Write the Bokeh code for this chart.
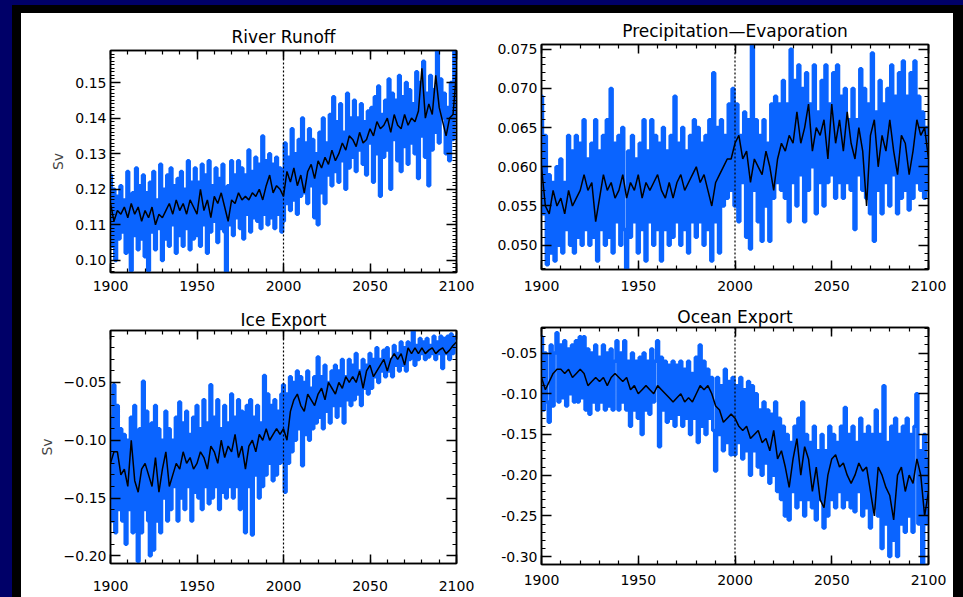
import numpy as np
from bokeh.plotting import figure
from bokeh.models import (Range1d, LinearAxis, SingleIntervalTicker, PrintfTickFormatter,
                          CustomJSTickFormatter, Span, Spacer, CustomLabelingPolicy)
from bokeh.layouts import row, column
from bokeh.embed import file_html
from bokeh.resources import INLINE

# ---------------- data ----------------
titles = ["River Runoff", "Precipitation\u2014Evaporation", "Ice Export", "Ocean Export"]

# annual blue series 1900..2100 (10 values per decade)
runoff_blue = [
    0.124, 0.104, 0.120, 0.100, 0.118, 0.106, 0.121, 0.108, 0.117, 0.102,
    0.125, 0.104, 0.097, 0.119, 0.107, 0.126, 0.103, 0.121, 0.106, 0.124,
    0.101, 0.119, 0.097, 0.122, 0.108, 0.125, 0.103, 0.117, 0.109, 0.127,
    0.100, 0.120, 0.106, 0.124, 0.104, 0.126, 0.110, 0.121, 0.102, 0.123,
    0.107, 0.125, 0.104, 0.120, 0.109, 0.128, 0.103, 0.122, 0.106, 0.126,
    0.107, 0.122, 0.104, 0.127, 0.110, 0.124, 0.102, 0.128, 0.108, 0.121,
    0.111, 0.126, 0.105, 0.123, 0.109, 0.127, 0.108, 0.096, 0.121, 0.110,
    0.128, 0.107, 0.124, 0.112, 0.128, 0.109, 0.126, 0.106, 0.124, 0.113,
    0.131, 0.108, 0.125, 0.112, 0.129, 0.111, 0.127, 0.109, 0.135, 0.113,
    0.128, 0.110, 0.130, 0.112, 0.127, 0.109, 0.129, 0.113, 0.126, 0.108,
    0.111, 0.133, 0.116, 0.129, 0.114, 0.137, 0.117, 0.130, 0.113, 0.134,
    0.118, 0.140, 0.119, 0.133, 0.116, 0.137, 0.121, 0.134, 0.112, 0.130,
    0.110, 0.136, 0.119, 0.140, 0.116, 0.133, 0.124, 0.141, 0.121, 0.146,
    0.125, 0.139, 0.122, 0.144, 0.128, 0.136, 0.120, 0.147, 0.126, 0.140,
    0.129, 0.145, 0.125, 0.140, 0.131, 0.144, 0.127, 0.139, 0.124, 0.142,
    0.133, 0.143, 0.122, 0.146, 0.130, 0.149, 0.118, 0.141, 0.129, 0.145,
    0.131, 0.151, 0.120, 0.147, 0.134, 0.145, 0.128, 0.152, 0.125, 0.146,
    0.132, 0.150, 0.127, 0.148, 0.133, 0.144, 0.130, 0.153, 0.123, 0.150,
    0.135, 0.156, 0.129, 0.147, 0.121, 0.152, 0.131, 0.148, 0.136, 0.159,
    0.133, 0.151, 0.140, 0.147, 0.130, 0.143, 0.128, 0.150, 0.134, 0.159,
    0.141,
]
# black series every 2 years 1900..2100
runoff_black = [
    0.116, 0.111, 0.114, 0.113, 0.115, 0.112, 0.116, 0.113, 0.115, 0.111,
    0.114, 0.112, 0.115, 0.110, 0.113, 0.112, 0.114, 0.116, 0.113, 0.117,
    0.114, 0.116, 0.113, 0.117, 0.115, 0.113, 0.120, 0.114, 0.117, 0.112,
    0.118, 0.116, 0.119, 0.115, 0.111, 0.117, 0.116, 0.119, 0.117, 0.118,
    0.117, 0.119, 0.118, 0.120, 0.117, 0.121, 0.124, 0.119, 0.121, 0.120,
    0.118, 0.125, 0.122, 0.126, 0.121, 0.124, 0.119, 0.125, 0.127, 0.123,
    0.128, 0.126, 0.129, 0.127, 0.131, 0.128, 0.130, 0.133, 0.131, 0.135,
    0.134, 0.132, 0.136, 0.133, 0.134, 0.137, 0.135, 0.139, 0.137, 0.138,
    0.140, 0.136, 0.141, 0.138, 0.137, 0.141, 0.138, 0.140, 0.139, 0.142,
    0.154, 0.140, 0.144, 0.141, 0.152, 0.143, 0.139, 0.135, 0.140, 0.141,
    0.153,
]

pe_blue = [
    0.069, 0.054, 0.064, 0.0475, 0.059, 0.049, 0.058, 0.048, 0.060, 0.050,
    0.061, 0.049, 0.058, 0.052, 0.064, 0.050, 0.062, 0.049, 0.064, 0.051,
    0.063, 0.050, 0.066, 0.052, 0.061, 0.050, 0.063, 0.051, 0.066, 0.048,
    0.062, 0.052, 0.064, 0.050, 0.066, 0.051, 0.070, 0.049, 0.063, 0.053,
    0.064, 0.050, 0.065, 0.052, 0.0465, 0.062, 0.051, 0.064, 0.053, 0.061,
    0.049, 0.063, 0.052, 0.066, 0.048, 0.062, 0.053, 0.066, 0.050, 0.064,
    0.052, 0.063, 0.048, 0.065, 0.052, 0.062, 0.050, 0.064, 0.051, 0.069,
    0.053, 0.063, 0.050, 0.065, 0.052, 0.062, 0.049, 0.064, 0.053, 0.066,
    0.051, 0.065, 0.053, 0.063, 0.050, 0.064, 0.052, 0.066, 0.048, 0.072,
    0.053, 0.065, 0.049, 0.066, 0.055, 0.064, 0.056, 0.068, 0.057, 0.070,
    0.055, 0.068, 0.053, 0.064, 0.058, 0.067, 0.051, 0.066, 0.0495, 0.0755,
    0.057, 0.066, 0.053, 0.064, 0.0505, 0.066, 0.055, 0.063, 0.0505, 0.068,
    0.056, 0.069, 0.058, 0.068, 0.057, 0.071, 0.056, 0.068, 0.053, 0.075,
    0.058, 0.071, 0.055, 0.073, 0.059, 0.070, 0.053, 0.072, 0.057, 0.068,
    0.060, 0.073, 0.054, 0.067, 0.058, 0.071, 0.055, 0.073, 0.058, 0.068,
    0.059, 0.072, 0.056, 0.073, 0.058, 0.069, 0.056, 0.070, 0.058, 0.066,
    0.057, 0.070, 0.052, 0.066, 0.059, 0.0725, 0.057, 0.070, 0.056, 0.068,
    0.054, 0.0745, 0.0505, 0.067, 0.057, 0.071, 0.054, 0.068, 0.058, 0.070,
    0.055, 0.073, 0.059, 0.069, 0.054, 0.072, 0.056, 0.0735, 0.057, 0.069,
    0.0545, 0.072, 0.056, 0.0735, 0.058, 0.069, 0.057, 0.067, 0.056, 0.065,
    0.057,
]
pe_black = [
    0.060, 0.055, 0.054, 0.057, 0.055, 0.056, 0.054, 0.057, 0.055, 0.056,
    0.057, 0.059, 0.057, 0.058, 0.053, 0.056, 0.059, 0.057, 0.058, 0.056,
    0.057, 0.059, 0.056, 0.058, 0.057, 0.059, 0.056, 0.058, 0.057, 0.058,
    0.059, 0.057, 0.056, 0.058, 0.056, 0.058, 0.059, 0.057, 0.058, 0.059,
    0.060, 0.058, 0.059, 0.057, 0.055, 0.058, 0.059, 0.060, 0.061, 0.061,
    0.063, 0.064, 0.061, 0.062, 0.058, 0.061, 0.060, 0.059, 0.062, 0.060,
    0.057, 0.061, 0.063, 0.062, 0.064, 0.063, 0.067, 0.063, 0.065, 0.068,
    0.062, 0.065, 0.064, 0.066, 0.061, 0.068, 0.063, 0.066, 0.062, 0.067,
    0.063, 0.061, 0.065, 0.062, 0.055, 0.064, 0.066, 0.060, 0.064, 0.062,
    0.066, 0.062, 0.059, 0.064, 0.063, 0.059, 0.062, 0.066, 0.064, 0.065,
    0.061,
]

ice_blue = [
    -0.080, -0.170, -0.052, -0.180, -0.070, -0.160, -0.090, -0.170, -0.095, -0.190,
    -0.100, -0.160, -0.080, -0.180, -0.070, -0.150, -0.205, -0.090, -0.180, -0.049,
    -0.160, -0.075, -0.170, -0.200, -0.085, -0.195, -0.070, -0.170, -0.090, -0.180,
    -0.100, -0.150, -0.075, -0.170, -0.090, -0.160, -0.100, -0.140, -0.080, -0.170,
    -0.067, -0.150, -0.085, -0.160, -0.075, -0.140, -0.095, -0.170, -0.080, -0.145,
    -0.070, -0.150, -0.090, -0.160, -0.065, -0.140, -0.085, -0.155, -0.052, -0.150,
    -0.080, -0.140, -0.065, -0.160, -0.090, -0.145, -0.070, -0.150, -0.085, -0.140,
    -0.060, -0.150, -0.080, -0.140, -0.065, -0.160, -0.075, -0.145, -0.180, -0.070,
    -0.140, -0.065, -0.182, -0.080, -0.130, -0.070, -0.150, -0.085, -0.140, -0.044,
    -0.130, -0.060, -0.120, -0.070, -0.135, -0.065, -0.130, -0.075, -0.120, -0.060,
    -0.052, -0.145, -0.060, -0.120, -0.045, -0.110, -0.050, -0.100, -0.040, -0.090,
    -0.045, -0.122, -0.050, -0.095, -0.040, -0.100, -0.055, -0.090, -0.045, -0.085,
    -0.028, -0.080, -0.045, -0.090, -0.035, -0.075, -0.050, -0.085, -0.040, -0.070,
    -0.035, -0.080, -0.040, -0.070, -0.030, -0.085, -0.045, -0.065, -0.030, -0.070,
    -0.035, -0.065, -0.025, -0.060, -0.040, -0.070, -0.030, -0.055, -0.035, -0.060,
    -0.025, -0.055, -0.030, -0.045, -0.020, -0.050, -0.030, -0.040, -0.022, -0.045,
    -0.020, -0.040, -0.030, -0.045, -0.018, -0.035, -0.025, -0.040, -0.015, -0.035,
    -0.020, -0.040, -0.015, -0.030, -0.022, -0.005, -0.035, -0.018, -0.030, -0.012,
    -0.025, -0.015, -0.030, -0.012, -0.028, -0.018, -0.025, -0.010, -0.030, -0.015,
    -0.025, -0.010, -0.038, -0.012, -0.025, -0.010, -0.030, -0.008, -0.025, -0.012,
    -0.010,
]
ice_black = [
    -0.120, -0.110, -0.110, -0.130, -0.125, -0.140, -0.100, -0.135, -0.145, -0.125,
    -0.120, -0.130, -0.140, -0.115, -0.145, -0.125, -0.110, -0.140, -0.130, -0.120,
    -0.125, -0.110, -0.120, -0.115, -0.125, -0.120, -0.110, -0.115, -0.125, -0.105,
    -0.110, -0.120, -0.100, -0.115, -0.105, -0.110, -0.095, -0.115, -0.105, -0.125,
    -0.105, -0.100, -0.110, -0.095, -0.100, -0.090, -0.100, -0.095, -0.090, -0.095,
    -0.090, -0.100, -0.075, -0.065, -0.060, -0.070, -0.075, -0.060, -0.065, -0.070,
    -0.060, -0.055, -0.065, -0.050, -0.055, -0.060, -0.050, -0.055, -0.045, -0.050,
    -0.045, -0.050, -0.040, -0.055, -0.040, -0.035, -0.045, -0.040, -0.035, -0.030,
    -0.040, -0.030, -0.025, -0.030, -0.025, -0.035, -0.020, -0.025, -0.020, -0.025,
    -0.020, -0.025, -0.022, -0.020, -0.025, -0.022, -0.020, -0.025, -0.022, -0.018,
    -0.015,
]

ocean_blue = [
    -0.030, -0.120, -0.050, -0.110, -0.135, -0.040, -0.115, -0.050, -0.025, -0.110,
    -0.040, -0.105, -0.035, -0.115, -0.045, -0.100, -0.040, -0.110, -0.035, -0.110,
    -0.030, -0.105, -0.030, -0.120, -0.045, -0.125, -0.050, -0.110, -0.040, -0.120,
    -0.055, -0.110, -0.040, -0.120, -0.050, -0.115, -0.045, -0.120, -0.060, -0.035,
    -0.120, -0.050, -0.110, -0.035, -0.120, -0.060, -0.140, -0.050, -0.120, -0.060,
    -0.130, -0.055, -0.150, -0.050, -0.120, -0.060, -0.125, -0.045, -0.110, -0.060,
    -0.035, -0.165, -0.055, -0.120, -0.060, -0.135, -0.065, -0.130, -0.060, -0.140,
    -0.065, -0.125, -0.060, -0.140, -0.070, -0.130, -0.060, -0.150, -0.075, -0.130,
    -0.055, -0.160, -0.040, -0.140, -0.060, -0.150, -0.070, -0.130, -0.080, -0.145,
    -0.195, -0.080, -0.150, -0.090, -0.170, -0.070, -0.160, -0.085, -0.175, -0.080,
    -0.175, -0.090, -0.160, -0.080, -0.180, -0.095, -0.170, -0.085, -0.200, -0.090,
    -0.170, -0.100, -0.190, -0.120, -0.200, -0.110, -0.185, -0.120, -0.210, -0.125,
    -0.200, -0.110, -0.220, -0.130, -0.230, -0.140, -0.250, -0.150, -0.255, -0.160,
    -0.220, -0.140, -0.240, -0.130, -0.230, -0.110, -0.250, -0.150, -0.230, -0.160,
    -0.240, -0.140, -0.255, -0.170, -0.230, -0.150, -0.265, -0.170, -0.250, -0.140,
    -0.230, -0.150, -0.240, -0.160, -0.220, -0.140, -0.240, -0.117, -0.230, -0.150,
    -0.240, -0.140, -0.245, -0.160, -0.220, -0.130, -0.250, -0.150, -0.240, -0.140,
    -0.265, -0.150, -0.240, -0.120, -0.250, -0.150, -0.290, -0.090, -0.260, -0.160,
    -0.300, -0.140, -0.280, -0.130, -0.300, -0.150, -0.260, -0.140, -0.270, -0.130,
    -0.250, -0.150, -0.270, -0.140, -0.100, -0.260, -0.170, -0.310, -0.150, -0.260,
    -0.180,
]
ocean_black = [
    -0.080, -0.095, -0.085, -0.075, -0.070, -0.070, -0.075, -0.070, -0.080, -0.075,
    -0.070, -0.075, -0.090, -0.085, -0.080, -0.085, -0.080, -0.090, -0.080, -0.075,
    -0.080, -0.085, -0.080, -0.095, -0.090, -0.100, -0.095, -0.090, -0.095, -0.100,
    -0.090, -0.095, -0.100, -0.105, -0.110, -0.105, -0.100, -0.110, -0.105, -0.110,
    -0.100, -0.090, -0.095, -0.090, -0.100, -0.115, -0.120, -0.135, -0.130, -0.125,
    -0.130, -0.140, -0.145, -0.140, -0.155, -0.150, -0.145, -0.160, -0.155, -0.170,
    -0.145, -0.180, -0.170, -0.190, -0.215, -0.180, -0.155, -0.200, -0.165, -0.180,
    -0.220, -0.190, -0.230, -0.240, -0.200, -0.180, -0.175, -0.190, -0.185, -0.200,
    -0.210, -0.200, -0.185, -0.195, -0.190, -0.220, -0.250, -0.190, -0.200, -0.215,
    -0.225, -0.255, -0.200, -0.190, -0.220, -0.200, -0.210, -0.180, -0.200, -0.250,
    -0.220,
]

x_ticks_interval = 50
y_ranges = [(0.0966, 0.159), (0.0469, 0.0756), (-0.2067, -0.005), (-0.3097, -0.0186)]
y_intervals = [0.01, 0.005, 0.05, 0.05]
y_minors = [10, 5, 5, 5]
y_labels = ["Sv", None, "Sv", None]

BLUE = "#0a64ff"
NAVY = "#000068"
FONT = "DejaVu Sans"

NO_LABELS = "for (const i of indices) { indices.unset(i) }\nreturn indices"


def style_axis(ax, tick_in, minor_in):
    ax.major_tick_in = tick_in
    ax.major_tick_out = 0
    ax.minor_tick_in = minor_in
    ax.minor_tick_out = 0
    ax.axis_line_width = 1.5
    ax.major_tick_line_width = 1.5
    ax.minor_tick_line_width = 1.2


def hide_labels(ax):
    ax.major_label_text_font_size = "0px"
    ax.major_label_standoff = 0
    ax.major_label_policy = CustomLabelingPolicy(code=NO_LABELS)


def make_panel(i, blue, black, width, height, borders, fmt, x_standoff, title_standoff):
    left, right, top, bottom = borders
    p = figure(width=width, height=height, output_backend="svg", toolbar_location=None,
               x_range=Range1d(1900, 2100), y_range=Range1d(*y_ranges[i]),
               min_border_left=left, min_border_right=right,
               min_border_top=top, min_border_bottom=bottom,
               x_axis_location=None, y_axis_location=None)
    p.grid.visible = False
    p.background_fill_color = "white"
    p.border_fill_color = "white"
    p.outline_line_color = "black"
    p.outline_line_width = 1.5

    by = np.asarray(blue)
    bx = 1900 + np.arange(len(by))
    ky = np.asarray(black)
    kx = 1900 + 2 * np.arange(len(ky))
    p.step(bx, by, mode="center", line_width=3.5, line_color=BLUE)
    p.line(kx, ky, line_width=1.5, line_color="black")
    p.add_layout(Span(location=2000, dimension="height", line_color="black",
                      line_width=1.2, line_dash="2 2"))

    for loc in ["below", "above"]:
        ax = LinearAxis(ticker=SingleIntervalTicker(interval=x_ticks_interval, num_minor_ticks=5))
        style_axis(ax, 9, 4)
        if loc == "below":
            ax.major_label_text_font = FONT
            ax.major_label_text_font_size = "14px"
            ax.major_label_text_color = "black"
            ax.major_label_standoff = x_standoff
        else:
            hide_labels(ax)
        p.add_layout(ax, loc)

    for loc in ["left", "right"]:
        ax = LinearAxis(ticker=SingleIntervalTicker(interval=y_intervals[i], num_minor_ticks=y_minors[i]))
        style_axis(ax, 10, 4)
        if loc == "left":
            ax.formatter = fmt
            ax.major_label_text_font = FONT
            ax.major_label_text_font_size = "14px"
            ax.major_label_text_color = "black"
            ax.major_label_standoff = 4
            if y_labels[i]:
                ax.axis_label = y_labels[i]
                ax.axis_label_text_font = FONT
                ax.axis_label_text_font_size = "14px"
                ax.axis_label_text_font_style = "normal"
                ax.axis_label_standoff = 6
        else:
            hide_labels(ax)
        p.add_layout(ax, loc)

    p.title.text = titles[i]
    p.title.align = "center"
    p.title.text_font = FONT
    p.title.text_font_size = "17px"
    p.title.text_font_style = "normal"
    p.title.text_color = "black"
    p.title.standoff = title_standoff
    return p


# left column: 469 wide, heights 293 + 291 ; right column: 463 wide, heights 290 + 294
p1 = make_panel(0, runoff_blue, runoff_black, 469, 293, (84, 34, 37, 34),
                PrintfTickFormatter(format="%.2f"), 8, 8)
p3 = make_panel(2, ice_blue, ice_black, 469, 291, (89, 27, 22, 34),
                CustomJSTickFormatter(code="return tick.toFixed(2).replace('-', '\\u2212');"), 17, 2)
p2 = make_panel(1, pe_blue, pe_black, 463, 290, (42, 25, 31, 34),
                PrintfTickFormatter(format="%.3f"), 11, 8)
p4 = make_panel(3, ocean_blue, ocean_black, 463, 294, (51, 21, 20, 33),
                PrintfTickFormatter(format="%.2f"), 10, 2)


def block(w, h, color):
    return Spacer(width=w, height=h, styles={"background-color": color})


white_area = row(column(p1, p3, spacing=0), column(p2, p4, spacing=0), spacing=0)
framed = row(block(9, 592, "black"),
             column(block(932, 8, "black"), white_area, spacing=0),
             block(10, 592, "black"), spacing=0)
layout = row(block(12, 597, NAVY),
             column(block(951, 5, NAVY), framed, spacing=0),
             spacing=0)

open("out.html", "w").write(file_html(layout, INLINE))
